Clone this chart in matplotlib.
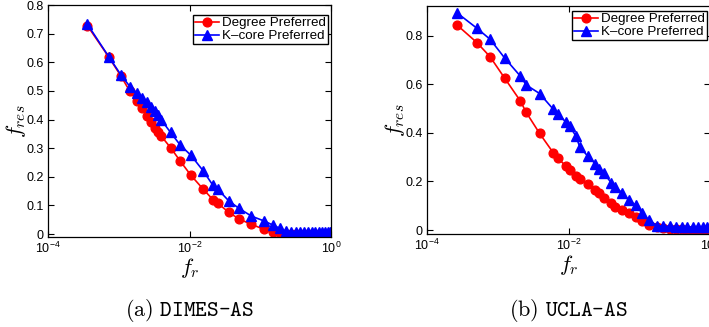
import numpy as np
import matplotlib
matplotlib.use("Agg")
import matplotlib.pyplot as plt
from matplotlib.ticker import NullLocator

plt.rcParams['font.family'] = ['Liberation Sans', 'DejaVu Sans']
plt.rcParams['mathtext.fontset'] = 'cm'

# (a) DIMES-AS
x_dimes = [3.6e-4, 7.2e-4, 1.08e-3, 1.44e-3, 1.8e-3, 2.16e-3, 2.52e-3, 2.88e-3,
           3.24e-3, 3.6e-3, 3.96e-3, 5.4e-3, 7.4e-3, 1.05e-2, 1.55e-2, 2.15e-2,
           2.5e-2, 3.6e-2, 5.0e-2, 7.5e-2, 0.113, 0.15, 0.19, 0.23, 0.27, 0.32,
           0.37, 0.42, 0.48, 0.54, 0.6, 0.67, 0.74, 0.82, 0.9, 0.97]
deg_dimes = [0.728, 0.619, 0.551, 0.498, 0.466, 0.439, 0.413, 0.392, 0.372, 0.357,
             0.343, 0.302, 0.255, 0.205, 0.158, 0.120, 0.108, 0.076, 0.053, 0.034,
             0.017, 0.008, 0.004, 0.002, 0.001, 0.0, 0.0, 0.0, 0.0, 0.0, 0.0, 0.0,
             0.0, 0.0, 0.0, 0.0]
kc_dimes = [0.733, 0.620, 0.555, 0.515, 0.492, 0.475, 0.460, 0.445, 0.430, 0.415,
            0.400, 0.355, 0.311, 0.275, 0.222, 0.170, 0.157, 0.116, 0.090, 0.063,
            0.046, 0.032, 0.020, 0.010, 0.008, 0.008, 0.007, 0.007, 0.007, 0.007,
            0.007, 0.007, 0.007, 0.007, 0.007, 0.007]

# (b) UCLA-AS
x_ucla = [2.65e-4, 5.1e-4, 7.8e-4, 1.26e-3, 2.08e-3, 2.53e-3, 3.9e-3, 6.1e-3,
          7.1e-3, 9.1e-3, 1.04e-2, 1.27e-2, 1.44e-2, 1.86e-2, 2.38e-2, 2.7e-2,
          3.2e-2, 4.0e-2, 4.6e-2, 5.7e-2, 7.1e-2, 8.9e-2, 0.11, 0.137, 0.18,
          0.22, 0.27, 0.33, 0.4, 0.48, 0.57, 0.68, 0.8, 0.92]
deg_ucla = [0.844, 0.771, 0.713, 0.624, 0.532, 0.484, 0.398, 0.318, 0.295, 0.265,
            0.247, 0.224, 0.210, 0.189, 0.167, 0.154, 0.134, 0.110, 0.096, 0.082,
            0.069, 0.052, 0.038, 0.021, 0.011, 0.007, 0.005, 0.004, 0.003, 0.002,
            0.001, 0.001, 0.0, 0.0]
kc_ucla = [0.894, 0.830, 0.785, 0.707, 0.634, 0.597, 0.562, 0.497, 0.476, 0.446,
           0.428, 0.387, 0.343, 0.305, 0.274, 0.250, 0.233, 0.195, 0.176, 0.154,
           0.123, 0.103, 0.069, 0.041, 0.018, 0.016, 0.015, 0.014, 0.013, 0.013,
           0.012, 0.012, 0.012, 0.012]

labels = ['Degree Preferred', 'K\u2013core Preferred']

fig = plt.figure(figsize=(7.09, 3.27), dpi=100)
W, H = 709, 327


def panel(rect_px, x, deg, kc, ylim, yticks, tag, name, leg_top):
    l, t, r, b = rect_px
    ax = fig.add_axes([l / W, 1 - b / H, (r - l) / W, (b - t) / H])
    ax.plot(x, deg, '-o', color='red', lw=1.2, ms=6.3, label=labels[0])
    ax.plot(x, kc, '-^', color='blue', lw=1.2, ms=6.8, label=labels[1])
    ax.set_xscale('log')
    ax.set_xlim(1e-4, 1)
    ax.set_xticks([1e-4, 1e-2, 1])
    ax.xaxis.set_minor_locator(NullLocator())
    ax.set_ylim(*ylim)
    ax.set_yticks(yticks)
    ax.set_yticklabels([f'{v:g}' for v in yticks])
    ax.tick_params(direction='in', top=True, right=True, length=4, width=0.8,
                   labelsize=9, pad=3)
    for s in ax.spines.values():
        s.set_linewidth(0.9)
    ax.set_xlabel(r'$f_r$', fontsize=16, labelpad=0)
    ax.set_ylabel(r'$f_{res}$', fontsize=16, labelpad=-1)
    ax.legend(loc='upper right', fontsize=9.6, fancybox=False, edgecolor='black',
              framealpha=1, borderaxespad=0, handlelength=1.75,
              borderpad=0.15, labelspacing=0.05, handletextpad=0.25,
              bbox_to_anchor=(1 - 3 / (r - l), 1 - leg_top / (b - t)))
    cx = (l + r) / 2 / W
    fig.text(cx, 1 - 311 / H, tag + name, ha='center', va='center',
             fontsize=16, family='cmtt10')
    return ax


panel((48, 5, 331, 237), x_dimes, deg_dimes, kc_dimes, (-0.01, 0.8),
      [0, 0.1, 0.2, 0.3, 0.4, 0.5, 0.6, 0.7, 0.8],
      r'$\mathrm{(a)}\ $', 'DIMES-AS', 10)
panel((427, 6, 710, 234), x_ucla, deg_ucla, kc_ucla, (-0.016, 0.922),
      [0, 0.2, 0.4, 0.6, 0.8],
      r'$\mathrm{(b)}\ $', 'UCLA-AS', 5)

fig.savefig('out.png', dpi=100)
